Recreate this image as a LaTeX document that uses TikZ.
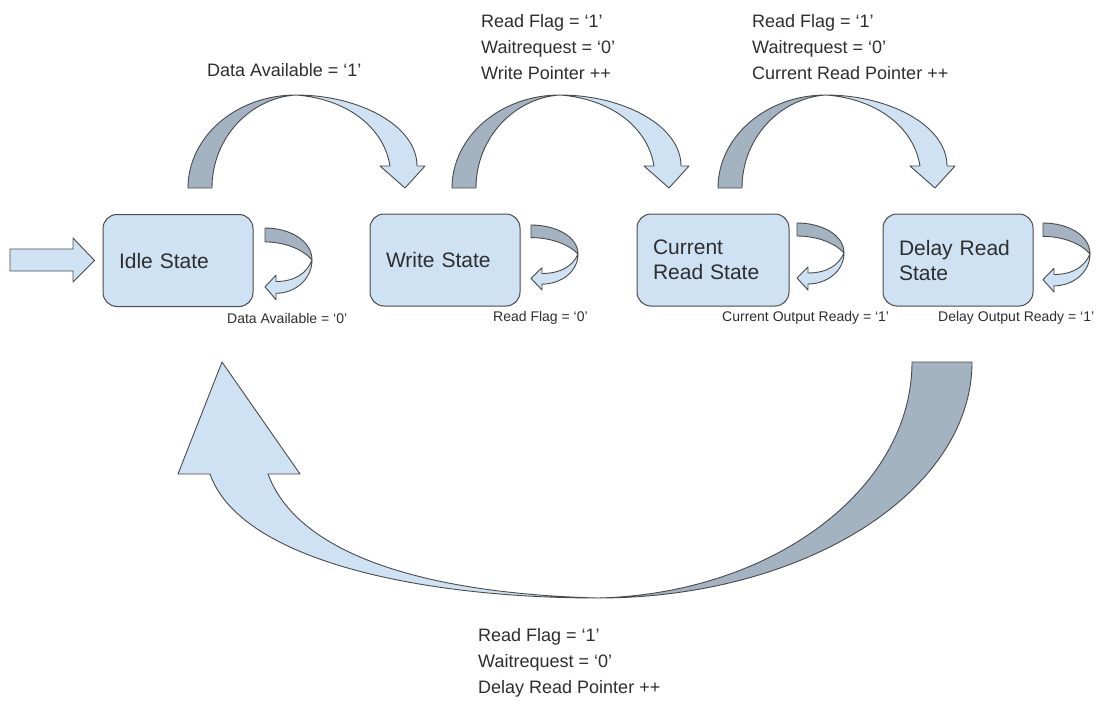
\documentclass[tikz,border=0pt]{standalone}
\usepackage{fontspec}
\setmainfont{Liberation Sans}
\definecolor{lightfill}{HTML}{CFE2F3}
\definecolor{darkfill}{HTML}{A3B3C2}
\definecolor{edgegray}{HTML}{4A4A4A}
\definecolor{textgray}{HTML}{2E2E2E}
\tikzset{
  statebox/.style={draw=edgegray, line width=1pt, fill=lightfill, rounded corners=14pt,
    minimum height=92pt, inner xsep=16pt, align=left, text=textgray, font=\fontsize{21}{25}\selectfont},
  lightpart/.style={draw=edgegray, line width=0.9pt, fill=lightfill, line join=round},
  darkpart/.style={draw=edgegray, line width=0.9pt, fill=darkfill, line join=round},
  biglabel/.style={anchor=west, align=left, inner sep=0pt, text=textgray, font=\fontsize{18}{26}\selectfont},
  smalllabel/.style={anchor=west, inner sep=0pt, text=textgray, font=\fontsize{14}{16}\selectfont},
}
\newcommand{\selfloop}[3]{%
  \begin{scope}[shift={(#1,#2)}, yscale=#3]
    \draw[darkpart] (0,0) .. controls (25,0) and (47,12) .. (47,30)
      .. controls (38,20) and (20,13) .. (0,13) -- cycle;
    \draw[lightpart] (47,30) .. controls (47,48) and (30,61) .. (11,61)
      -- (11,67) -- (0,55) -- (11,44) -- (11,50)
      .. controls (30,50) and (42,42) .. (47,30) -- cycle;
  \end{scope}}
\newcommand{\toparc}[1]{%
  \begin{scope}[shift={(#1,0)}]
    \draw[darkpart] (0,188) .. controls (0,137) and (48,95) .. (108,95)
      .. controls (62,98) and (24,138) .. (24,188) -- cycle;
    \draw[lightpart] (108,95) .. controls (170,95) and (229,125) .. (229,166)
      -- (237,166) -- (217,188) -- (192,166) -- (202,166)
      .. controls (196,128) and (160,99) .. (108,95) -- cycle;
  \end{scope}}
\begin{document}
\begin{tikzpicture}[x=1pt,y=-1pt]
\useasboundingbox (0,0) rectangle (1104,704);
\fill[white] (0,0) rectangle (1104,704);

% state boxes
\node[statebox, text width=118pt] (idle) at (178,260.5) {Idle State};
\node[statebox, text width=118pt] (write) at (445,260) {Write State};
\node[statebox, text width=120pt] (cur) at (713,260) {Current\\Read State};
\node[statebox, text width=118pt] (dly) at (958,260) {Delay Read\\State};

% entry arrow
\coordinate (entrytip) at ([xshift=-8pt]idle.west);
\draw[lightpart] (10,249) -- (73,249) -- (73,238) -- (entrytip) -- (73,282) -- (73,271) -- (10,271) -- cycle;

% transitions over the top
\toparc{188}
\toparc{452}
\toparc{718}

% self loops
\selfloop{265}{228}{1.07}
\selfloop{531}{225}{0.97}
\selfloop{797}{223}{1.0}
\selfloop{1043}{223}{1.03}

% big return arrow
\draw[darkpart] (972,362) .. controls (972,492) and (804,598) .. (598,598)
  .. controls (771,594) and (912,490) .. (912,362) -- cycle;
\draw[lightpart] (598,598) .. controls (420,598) and (240,560) .. (210,474)
  -- (178,474) -- (222,362) -- (300,474) -- (268,474)
  .. controls (300,560) and (440,594) .. (598,598) -- cycle;

% labels
\node[biglabel] (l1) at (207,70) {Data Available = ‘1’};
\node[biglabel] (l2) at (481,47) {Read Flag = ‘1’\\Waitrequest = ‘0’\\Write Pointer ++};
\node[biglabel] (l3) at (752,47) {Read Flag = ‘1’\\Waitrequest = ‘0’\\Current Read Pointer ++};
\node[biglabel] (l4) at (478,663) {Read Flag = ‘1’\\Waitrequest = ‘0’\\Delay Read Pointer ++};

\node[smalllabel] (s1) at (227,318) {Data Available = ‘0’};
\node[smalllabel] (s2) at (493,318) {Read Flag = ‘0’};
\node[smalllabel] (s3) at (722,318) {Current Output Ready = ‘1’};
\node[smalllabel] (s4) at (938,318) {Delay Output Ready = ‘1’};
\end{tikzpicture}
\end{document}
